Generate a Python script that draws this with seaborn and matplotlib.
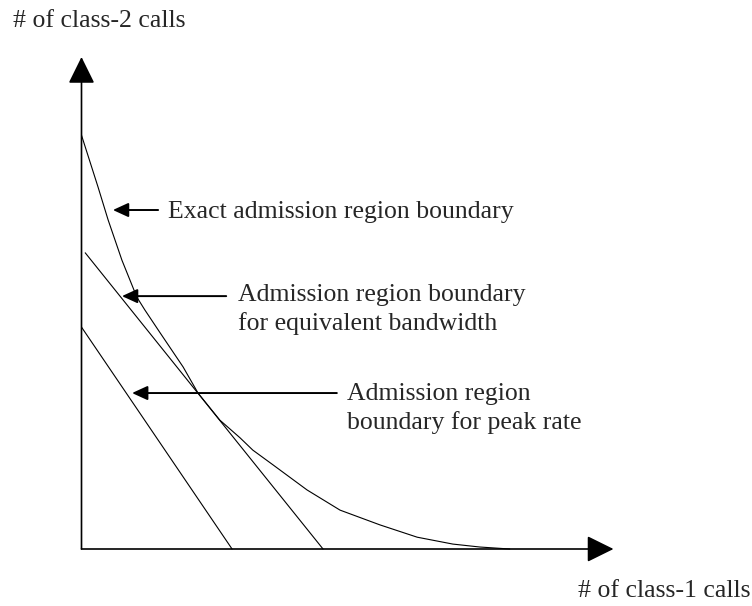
import seaborn as sns
import pandas as pd
import matplotlib.pyplot as plt

# exact admission region boundary (class-1 calls, class-2 calls)
exact_x = [0, 3.1, 5.0, 7.6, 10.4, 11.9, 14.8, 19.1, 21.9, 26.0, 29.8, 32.2, 36.0,
           42.4, 48.6, 56.1, 63.1, 69.8, 74.9, 80.5]
exact_y = [84.1, 73.6, 66.9, 58.7, 51.2, 48.6, 43.9, 37.0, 31.7, 26.2, 22.6, 20.1, 17.1,
           12.0, 7.9, 4.9, 2.4, 1.0, 0.4, 0]
# linear boundary for equivalent bandwidth
equiv_x = [0.7, 45.4]
equiv_y = [60.2, 0]
# linear boundary for peak rate
peak_x = [0, 28.3]
peak_y = [45.1, 0]

labels = ['Exact admission region boundary',
          'Admission region boundary\nfor equivalent bandwidth',
          'Admission region\nboundary for peak rate']
# arrow tip (x, y), arrow tail x, text x, baseline of last text line
arrow_tip = [(5.9, 68.9), (7.6, 51.4), (9.5, 31.7)]
arrow_tail_x = [14.4, 27.2, 48.0]
text_x = [16.3, 29.4, 49.9]
text_base_y = [67.2, 44.5, 24.4]

sns.set_theme(style='white')
plt.rcParams['font.family'] = ['Liberation Serif', 'DejaVu Serif']

fig = plt.figure(figsize=(7.52, 6.06), dpi=100)
ax = fig.add_axes([81.5 / 752, 57 / 606, 532 / 752, 492 / 606])

for xs, ys in [(exact_x, exact_y), (equiv_x, equiv_y), (peak_x, peak_y)]:
    df = pd.DataFrame({'x': xs, 'y': ys})
    sns.lineplot(data=df, x='x', y='y', ax=ax, sort=False, estimator=None,
                 color='black', lw=0.8, clip_on=False)

ax.set_xlim(0, 100)
ax.set_ylim(0, 100)
ax.set_axis_off()

# axes with big arrow heads
big = dict(arrowstyle='-|>,head_length=0.83,head_width=0.41', mutation_scale=20,
           color='black', lw=1.2, shrinkA=0, shrinkB=0)
ax.annotate('', xy=(0, 100), xytext=(0, 0), arrowprops=big, annotation_clip=False)
ax.annotate('', xy=(100, 0), xytext=(0, 0), arrowprops=big, annotation_clip=False)

ax.text(-12.9, 106.0, '# of class-2 calls', fontsize=18.5, ha='left', va='baseline')
ax.text(93.3, -9.8, '# of class-1 calls', fontsize=18.5, ha='left', va='baseline')

small = dict(arrowstyle='-|>,head_length=0.94,head_width=0.43', mutation_scale=10,
             color='black', lw=1.4, shrinkA=0, shrinkB=0)
for lab, tip, tx0, tx, ty in zip(labels, arrow_tip, arrow_tail_x, text_x, text_base_y):
    ax.annotate('', xy=tip, xytext=(tx0, tip[1]), arrowprops=small, annotation_clip=False)
    ax.text(tx, ty, lab, fontsize=18.5, ha='left', va='baseline', linespacing=1.33)

fig.savefig('out.png', dpi=100)
